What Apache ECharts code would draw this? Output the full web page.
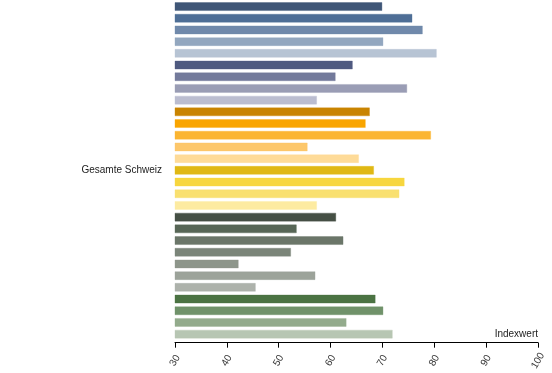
<!DOCTYPE html>
<html>
<head>
<meta charset="utf-8">
<script src="https://cdn.jsdelivr.net/npm/echarts@6/dist/echarts.min.js"></script>
<style>
html,body{margin:0;padding:0;background:#fff;}
#chart{width:552px;height:373px;}
</style>
</head>
<body>
<div id="chart"></div>
<script>
const categories = ['Gesamte Schweiz'];
const values = [
  70.0, 75.8, 77.8, 70.2, 80.5,
  64.3, 61.0, 74.8, 57.4,
  67.6, 66.8, 79.4, 55.6, 65.5,
  68.4, 74.3, 73.3, 57.4,
  61.1, 53.5, 62.5, 52.4, 42.3, 57.1, 45.6,
  68.7, 70.2, 63.1, 72.0
];
const xTicks = [30, 40, 50, 60, 70, 80, 90, 100];
const axisName = 'Indexwert';

const colors = [
  '#3f5677', '#4e6e96', '#7089ab', '#93a7bf', '#b7c4d4',
  '#4f5a80', '#737a9b', '#9a9db5', '#bbbdd0',
  '#c98400', '#f9a500', '#fbb531', '#fdc76a', '#fedb98',
  '#e0b814', '#f7d63e', '#f9e070', '#fdeba1',
  '#454f44', '#576656', '#6b7669', '#7b8579', '#8e968b', '#9ca39a', '#adb2ab',
  '#4b7343', '#70926a', '#93ab8c', '#b7c6b3'
];

function hexToRgba(h, a) {
  const r = parseInt(h.slice(1, 3), 16), g = parseInt(h.slice(3, 5), 16), b = parseInt(h.slice(5, 7), 16);
  return 'rgba(' + r + ',' + g + ',' + b + ',' + a + ')';
}

const font = 'Liberation Sans, Arial, sans-serif';
const chart = echarts.init(document.getElementById('chart'), null, {renderer: 'canvas'});

const series = values.map((v, i) => ({
  type: 'bar',
  name: 'S' + (i + 1),
  data: [v],
  barWidth: 9,
  barGap: '30%',
  itemStyle: {
    color: colors[i],
    borderColor: hexToRgba(colors[i], 0.35),
    borderWidth: 1
  },
  emphasis: {disabled: true},
  animation: false
}));

chart.setOption({
  animation: false,
  grid: {left: 175, right: 14, top: 2, height: 339, containLabel: false},
  xAxis: {
    type: 'value',
    min: xTicks[0],
    max: xTicks[xTicks.length - 1],
    interval: 10,
    offset: 4,
    name: axisName,
    nameLocation: 'end',
    nameGap: 0,
    nameTextStyle: {
      fontFamily: font, fontSize: 10, color: '#222',
      align: 'right', verticalAlign: 'bottom', padding: [0, 0, 3, 0]
    },
    axisLine: {show: true, lineStyle: {color: '#000', width: 1}},
    axisTick: {show: true, length: 5, lineStyle: {color: '#000'}},
    splitLine: {show: false},
    axisLabel: {
      fontFamily: font, fontSize: 10, color: '#333',
      rotate: 60, align: 'center', verticalAlign: 'middle', margin: 18
    }
  },
  yAxis: {
    type: 'category',
    data: categories,
    axisLine: {show: false},
    axisTick: {show: false},
    splitLine: {show: false},
    axisLabel: {fontFamily: font, fontSize: 10, color: '#222', margin: 13}
  },
  series: series
});
</script>
</body>
</html>
